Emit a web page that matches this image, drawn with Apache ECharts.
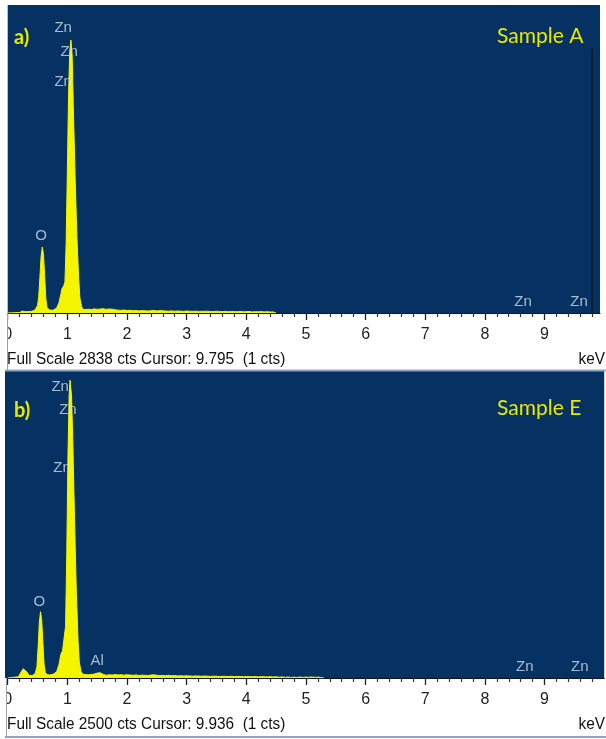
<!DOCTYPE html>
<html><head><meta charset="utf-8">
<script src="https://cdn.jsdelivr.net/npm/echarts/dist/echarts.min.js"></script>
<style>html,body{margin:0;padding:0;background:#fff}#c{width:606px;height:739px}</style>
</head><body><div id="c"></div>
<script>
// ---------- Sample A spectrum (keV, counts) ----------
const energyA = [0,0.2,0.25,0.3,0.4,0.46,0.5,0.52,0.54,0.56,0.58,0.6,0.62,0.64,0.66,0.7,0.76,0.82,0.86,0.89,0.91,0.94,0.96,0.98,1.0,1.02,1.04,1.06,1.08,1.1,1.13,1.16,1.19,1.21,1.24,1.28,
  1.30,1.35,1.40,1.45,1.50,1.55,1.60,1.65,1.70,1.75,1.80,1.85,1.90,1.95,2.00,2.05,2.10,2.15,2.20,2.25,2.30,2.35,2.40,2.45,2.50,2.55,2.60,2.65,2.70,2.75,2.80,2.85,2.90,2.95,
  3.00,3.05,3.10,3.15,3.20,3.25,3.30,3.35,3.40,3.45,3.50,3.55,3.60,3.65,3.70,3.75,3.80,3.85,3.90,3.95,4.00,4.05,4.10,4.15,4.20,4.25,4.30,4.35,4.40,4.45,4.5];
const countsA = [0,5,18,12,15,28,70,150,330,520,608,540,330,130,50,28,25,45,95,170,225,250,290,650,1300,2000,2400,2515,2380,1900,1250,700,320,140,55,30,
  30,35,32,38,34,36,40,33,37,35,30,26,24,28,22,25,20,23,19,22,20,18,21,24,19,22,20,18,17,19,16,18,17,15,
  18,16,15,17,14,16,15,17,14,13,16,14,13,15,12,14,13,12,15,11,13,14,10,12,11,13,10,12,9,10,0];

// ---------- Sample E spectrum (keV, counts) ----------
const energyE = [0,0.18,0.22,0.26,0.29,0.32,0.36,0.42,0.46,0.49,0.51,0.53,0.55,0.57,0.59,0.61,0.63,0.66,0.7,0.76,0.82,0.86,0.89,0.92,0.95,0.97,0.99,1.01,1.03,1.045,1.07,1.09,1.12,1.15,1.18,1.2,1.23,1.27,
  1.30,1.35,1.40,1.45,1.50,1.55,1.60,1.65,1.70,1.75,1.80,1.85,1.90,1.95,2.00,2.05,2.10,2.15,2.20,2.25,2.30,2.35,2.40,2.45,2.50,2.55,2.60,2.65,2.70,2.75,2.80,2.85,2.90,2.95,
  3.00,3.05,3.10,3.15,3.20,3.25,3.30,3.35,3.40,3.45,3.50,3.55,3.60,3.65,3.70,3.75,3.80,3.85,3.90,3.95,4.00,4.05,4.10,4.15,4.20,4.25,4.30,4.35,4.40,4.45,
  4.50,4.55,4.60,4.65,4.70,4.75,4.80,4.85,4.90,4.95,5.00,5.05,5.10,5.15,5.20,5.25,5.30];
const countsE = [0,10,45,75,78,50,20,22,35,90,250,450,540,470,280,110,45,28,25,30,50,110,190,225,240,420,1000,1800,2300,2425,2300,1950,1300,700,300,130,50,30,
  24,26,28,32,40,42,30,22,26,24,28,25,27,23,26,24,22,25,21,23,22,20,24,26,22,20,21,19,22,18,20,17,19,16,
  18,17,15,17,16,14,16,15,13,15,14,12,14,13,12,14,11,13,12,10,12,11,10,12,9,11,10,9,11,8,
  10,6,9,5,8,4,7,4,8,5,7,6,8,5,7,4,0];

// ---------- axis / scale ----------
const tickLabels = [0,1,2,3,4,5,6,7,8,9];
const maxKeVA = 9.93, maxKeVE = 10.0;
const fullScaleA = 2838, fullScaleE = 2500;
const cursorA = 9.795, cursorE = 9.936;

// ---------- element labels ----------
const labelTextA = ['Zn','Zn','Zn','O','Zn','Zn'];
const labelKeVA  = [0.93,1.03,0.93,0.56,8.64,9.58];
const labelCtsA  = [2626,2405,2128,709,101,101];
const labelTextE = ['Zn','Zn','Zn','O','Al','Zn','Zn'];
const labelKeVE  = [0.88,1.01,0.91,0.53,1.50,8.67,9.59];
const labelCtsE  = [2370,2182,1710,619,138,90,90];

const BG = '#053263', YEL = '#f5f500', LBL = '#d5dde9';

function pairs(xs, ys){ return xs.map((x,i)=>[x, ys[i]]); }
function lbls(t, xs, ys){ return t.map((s,i)=>[xs[i], ys[i], s]); }

function xAxisCfg(gi, max){
  return {
    gridIndex: gi, type:'value', min:0, max:max, interval:1,
    axisLine:{show:true, onZero:false, lineStyle:{color:'#111', width:1}},
    axisTick:{show:true, length:7, customValues:tickLabels, lineStyle:{color:'#222', width:1.3}},
    minorTick:{show:true, splitNumber:5, length:4, lineStyle:{color:'#333', width:1.2}},
    axisLabel:{show:true, customValues:tickLabels, color:'#222', fontSize:16, margin:14,
      fontFamily:'Liberation Sans', formatter:v=>String(v)},
    splitLine:{show:false}, minorSplitLine:{show:false}
  };
}
function yAxisCfg(gi, max){
  return {gridIndex:gi, type:'value', min:0, max:max, show:false, splitLine:{show:false}};
}
function specSeries(idx, data, cursor, cursorTop){
  const s = {
    type:'line', xAxisIndex:idx, yAxisIndex:idx, data:data, symbol:'none',
    lineStyle:{color:YEL, width:1}, areaStyle:{color:YEL, opacity:1}, z:2, silent:true
  };
  if (cursor !== null) {
    s.markLine = {silent:true, symbol:'none', label:{show:false},
      lineStyle:{color:'#131a2c', width:2, type:'solid'},
      data:[[{coord:[cursor,0]},{coord:[cursor,cursorTop]}]]};
  }
  return s;
}
function labelSeries(idx, data){
  return {type:'scatter', xAxisIndex:idx, yAxisIndex:idx, data:data, symbolSize:0, z:5, silent:true,
    label:{show:true, position:'inside', formatter:p=>p.value[2], color:LBL, fontSize:15,
      fontFamily:'Liberation Sans', align:'center', verticalAlign:'middle'}};
}

const chart = echarts.init(document.getElementById('c'), null, {renderer:'canvas'});
chart.setOption({
  animation:false,
  backgroundColor:'#ffffff',
  grid:[
    {left:7.7, top:5, width:592.3, height:308, show:true, backgroundColor:BG, borderWidth:0},
    {left:7.7, top:371, width:596.5, height:307, show:true, backgroundColor:BG, borderWidth:0}
  ],
  xAxis:[xAxisCfg(0, maxKeVA), xAxisCfg(1, maxKeVE)],
  yAxis:[yAxisCfg(0, fullScaleA), yAxisCfg(1, fullScaleE)],
  series:[
    specSeries(0, pairs(energyA, countsA), cursorA, 2440),
    labelSeries(0, lbls(labelTextA, labelKeVA, labelCtsA)),
    specSeries(1, pairs(energyE, countsE), null, 0),
    labelSeries(1, lbls(labelTextE, labelKeVE, labelCtsE))
  ],
  graphic:[
    // mask left margin (clips the "0" labels like the original)
    {type:'rect', shape:{x:0,y:314,width:7.5,height:56}, style:{fill:'#fff'}, z:100},
    {type:'rect', shape:{x:0,y:679,width:6.5,height:56}, style:{fill:'#fff'}, z:100},
    {type:'rect', shape:{x:5,y:371,width:3,height:307}, style:{fill:BG}, z:100},
    // frame lines
    {type:'line', shape:{x1:7.5,y1:313,x2:7.5,y2:370}, style:{stroke:'#9aa3ad', lineWidth:1}, z:101},
    {type:'line', shape:{x1:6.5,y1:678,x2:6.5,y2:736}, style:{stroke:'#9aa3ad', lineWidth:1}, z:101},
    {type:'line', shape:{x1:5,y1:370.5,x2:606,y2:370.5}, style:{stroke:'#8fa6c2', lineWidth:2}, z:101},
    {type:'line', shape:{x1:5,y1:737,x2:606,y2:737}, style:{stroke:'#8fa6c2', lineWidth:2}, z:101},
    // panel captions
    {type:'text', left:14, top:28, style:{text:'a)', fill:'#e8e800', font:'bold 20px Lato'}, z:110},
    {type:'text', left:497, top:26, style:{text:'Sample A', fill:'#e8e800', font:'21px Lato'}, z:110},
    {type:'text', left:14, top:401, style:{text:'b)', fill:'#e8e800', font:'bold 20px Lato'}, z:110},
    {type:'text', left:497, top:398, style:{text:'Sample E', fill:'#e8e800', font:'21px Lato'}, z:110},
    // status lines
    {type:'text', x:7, y:352, scaleX:0.96, style:{text:'Full Scale ' + fullScaleA + ' cts Cursor: ' + cursorA.toFixed(3) + '  (1 cts)', fill:'#111', font:'16px "Liberation Sans"'}, z:110},
    {type:'text', x:7, y:717, scaleX:0.96, style:{text:'Full Scale ' + fullScaleE + ' cts Cursor: ' + cursorE.toFixed(3) + '  (1 cts)', fill:'#111', font:'16px "Liberation Sans"'}, z:110},
    {type:'text', x:605, y:352, scaleX:0.96, style:{text:'keV', fill:'#111', font:'16px "Liberation Sans"', textAlign:'right'}, z:110},
    {type:'text', x:605, y:717, scaleX:0.96, style:{text:'keV', fill:'#111', font:'16px "Liberation Sans"', textAlign:'right'}, z:110}
  ]
});
</script></body></html>
